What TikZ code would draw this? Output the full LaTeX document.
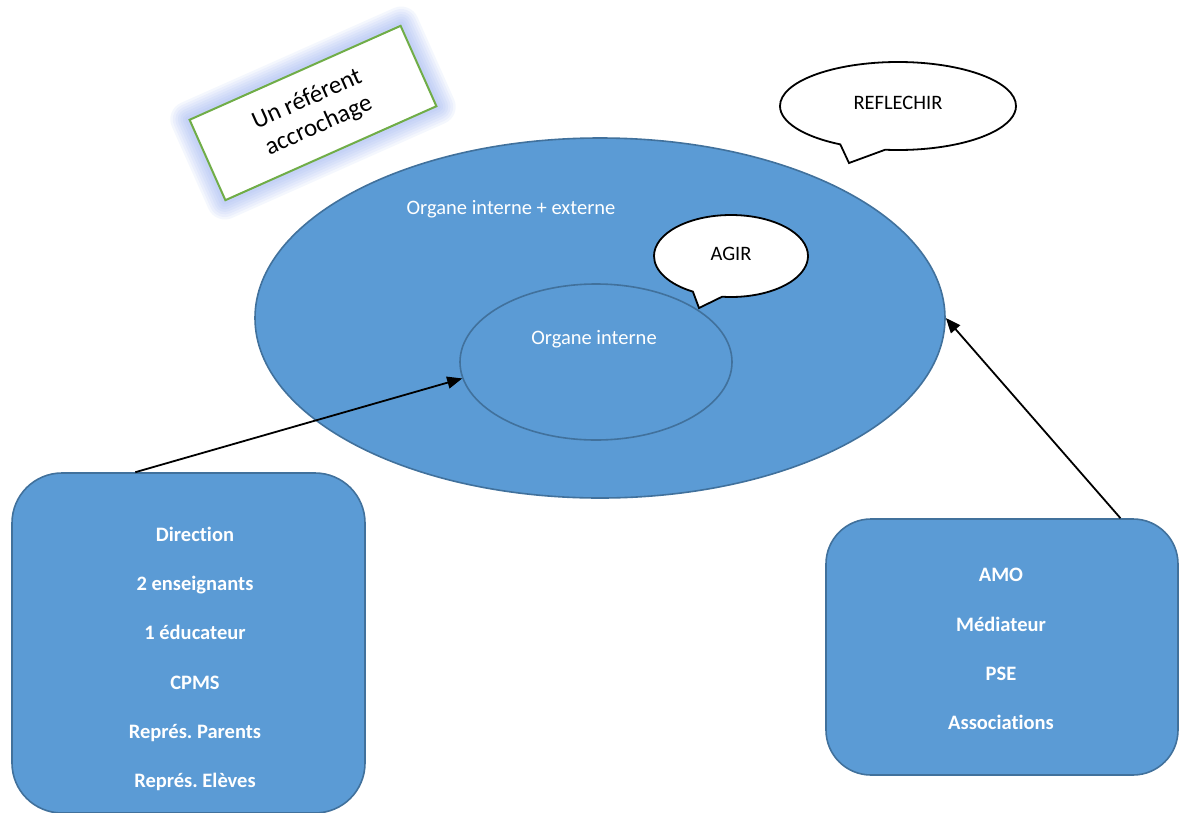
\documentclass[tikz,border=0pt]{standalone}
\usepackage{fontspec}
\setmainfont[Ligatures=NoCommon]{Carlito}
\usetikzlibrary{shapes.geometric,shapes.callouts,arrows.meta,backgrounds,calc}
\definecolor{fillblue}{RGB}{91,155,213}
\definecolor{edgeblue}{RGB}{65,113,156}
\definecolor{leafgreen}{RGB}{112,173,71}
\definecolor{glowblue}{RGB}{120,150,235}
\tikzset{
  blueoval/.style={ellipse, draw=edgeblue, fill=fillblue, line width=1.6pt, inner sep=0pt},
  roundbox/.style={rectangle, draw=edgeblue, fill=fillblue, line width=1.6pt, inner sep=0pt},
  whitetext/.style={text=white, font=\fontsize{20.5}{24}\selectfont, inner sep=0pt},
  listtext/.style={text=white, font=\fontsize{20.5}{49.3}\selectfont\bfseries, align=center, inner sep=0pt},
  bubble/.style={ellipse callout, draw=black, fill=white, line width=1.8pt, inner sep=0pt,
    font=\fontsize{20.5}{24}\selectfont, callout pointer arc=23},
  conn/.style={draw=black, line width=1.8pt, -{Triangle[length=15pt,width=12pt]}},
  glowline/.style={draw=glowblue, draw opacity=0.08, line join=round},
}
\frenchspacing
\begin{document}
\begin{tikzpicture}[x=1pt,y=-1pt]
\useasboundingbox (0,0) rectangle (1179,812);
\begin{scope}
\clip (0,0) rectangle (1179,812);

% rotated label with glow
\node[draw=leafgreen, fill=white, line width=2pt, rotate=24, minimum width=231, minimum height=88,
  align=center, font=\fontsize{25}{29}\selectfont, inner sep=0pt] (referent) at (313,113)
  {Un référent\\accrochage};
\begin{scope}[on background layer]
\foreach \w in {36,31,26,21,16,11,6}
  \draw[glowline, line width=\w pt] (referent.north west) -- (referent.north east)
     -- (referent.south east) -- (referent.south west) -- cycle;
\end{scope}

% ellipses
\node[blueoval, minimum width=690, minimum height=360] (outer) at (600,318) {};
\node[blueoval, minimum width=272, minimum height=156] (inner) at (596,362) {};
\node[whitetext] (outerlabel) at (511,209) {Organe interne + externe};
\node[whitetext] (innerlabel) at (594,339) {Organe interne};

% callouts
\node[bubble, minimum width=154, minimum height=82, callout absolute pointer={(699,308)}] (agir) at (731,256) {\raisebox{4pt}{AGIR}};
\node[bubble, minimum width=236, minimum height=88, callout absolute pointer={(849,163)}] (reflechir) at (898,106) {\raisebox{6pt}{REFLECHIR}};

% boxes
\node[roundbox, minimum width=353, minimum height=340, rounded corners=50pt] (internal) at (188.5,643) {};
\node[listtext] (internallist) at (195,659) {Direction\\2 enseignants\\1 éducateur\\CPMS\\Représ. Parents\\Représ. Elèves};
\node[roundbox, minimum width=352, minimum height=256, rounded corners=45pt] (external) at (1002,647) {};
\node[listtext] (externallist) at (1001,649) {AMO\\Médiateur\\PSE\\Associations};

% connectors
\draw[conn] ($(internal.north west)!0.35!(internal.north east)$) -- (inner.187);
\draw[conn] ($(external.north west)!0.835!(external.north east)$) -- (outer.east);
\end{scope}
\end{tikzpicture}
\end{document}
